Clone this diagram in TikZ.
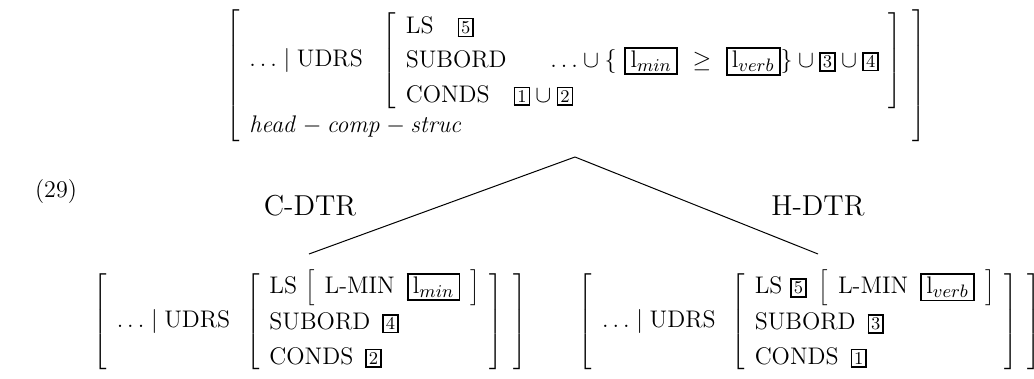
\documentclass[tikz,border=0pt]{standalone}
\usepackage{tikz}
\newcommand{\avmtag}[1]{{\setlength{\fboxsep}{1pt}\setlength{\fboxrule}{0.8pt}\fbox{\fontsize{9}{10}\selectfont #1}}}
\newcommand{\avmlab}[1]{{\setlength{\fboxsep}{1pt}\setlength{\fboxrule}{0.9pt}\fbox{\hspace{1.2pt}$\mathrm{l}_{\mbox{\fontsize{9.5}{11}\selectfont$#1$}}$\hspace{1.2pt}}}}
\newcommand{\avmsep}{\hspace{6pt}}
\begin{document}
\begin{tikzpicture}[x=0.5pt,y=-0.5pt,
  every node/.style={inner sep=0pt, outer sep=0pt, font=\fontsize{12}{14.4}\selectfont},
  avm/.style={anchor=north west},
  dtrlabel/.style={font=\fontsize{14.4}{17}\selectfont},
  branch/.style={line width=0.5pt}]
\useasboundingbox (0,0) rectangle (1034,379);

\node[avm] (top) at (226,9) {$\left[\begin{array}{l}
 \ldots \mid \mbox{UDRS}\ \ \renewcommand{\arraystretch}{1.2}\left[\begin{array}{l}
   \mbox{LS}\quad\avmtag{5}\\
   \mbox{SUBORD}\quad\ \ \ldots\cup\{\ \avmlab{min}\ \geq\ \avmlab{verb}\}\cup\avmtag{3}\cup\avmtag{4}\\
   \mbox{CONDS}\quad\avmtag{1}\cup\avmtag{2}
 \end{array}\right]\\[9pt]
 \mathit{head}-\mathit{comp}-\mathit{struc}
\end{array}\right]$};

\node (num) at (56,192) {(29)};
\node[dtrlabel] (cdtr) at (310,206) {C-DTR};
\node[dtrlabel] (hdtr) at (818,206) {H-DTR};

\node (cd) at (310,322) {$\left[\begin{array}{l}
 \ldots\mid\mbox{UDRS}\ \,\renewcommand{\arraystretch}{1.2}\left[\begin{array}{l}
   \mbox{LS}\,\renewcommand{\arraystretch}{1}\left[\begin{array}{l}\mbox{L-MIN}\avmsep\avmlab{min}\end{array}\right]\\
   \mbox{SUBORD}\avmsep\avmtag{4}\\
   \mbox{CONDS}\avmsep\avmtag{2}
 \end{array}\right]
\end{array}\right]$};

\node (hd) at (810,322) {$\left[\begin{array}{l}
 \ldots\mid\mbox{UDRS}\ \,\renewcommand{\arraystretch}{1.2}\left[\begin{array}{l}
   \mbox{LS}\ \avmtag{5}\ \renewcommand{\arraystretch}{1}\left[\begin{array}{l}\mbox{L-MIN}\avmsep\avmlab{verb}\end{array}\right]\\
   \mbox{SUBORD}\avmsep\avmtag{3}\\
   \mbox{CONDS}\avmsep\avmtag{1}
 \end{array}\right]
\end{array}\right]$};

\coordinate (apex) at (575,157);
\coordinate (cend) at (309,254);
\coordinate (hend) at (818,254);
\draw[branch] (apex) -- (cend);
\draw[branch] (apex) -- (hend);
\end{tikzpicture}
\end{document}
